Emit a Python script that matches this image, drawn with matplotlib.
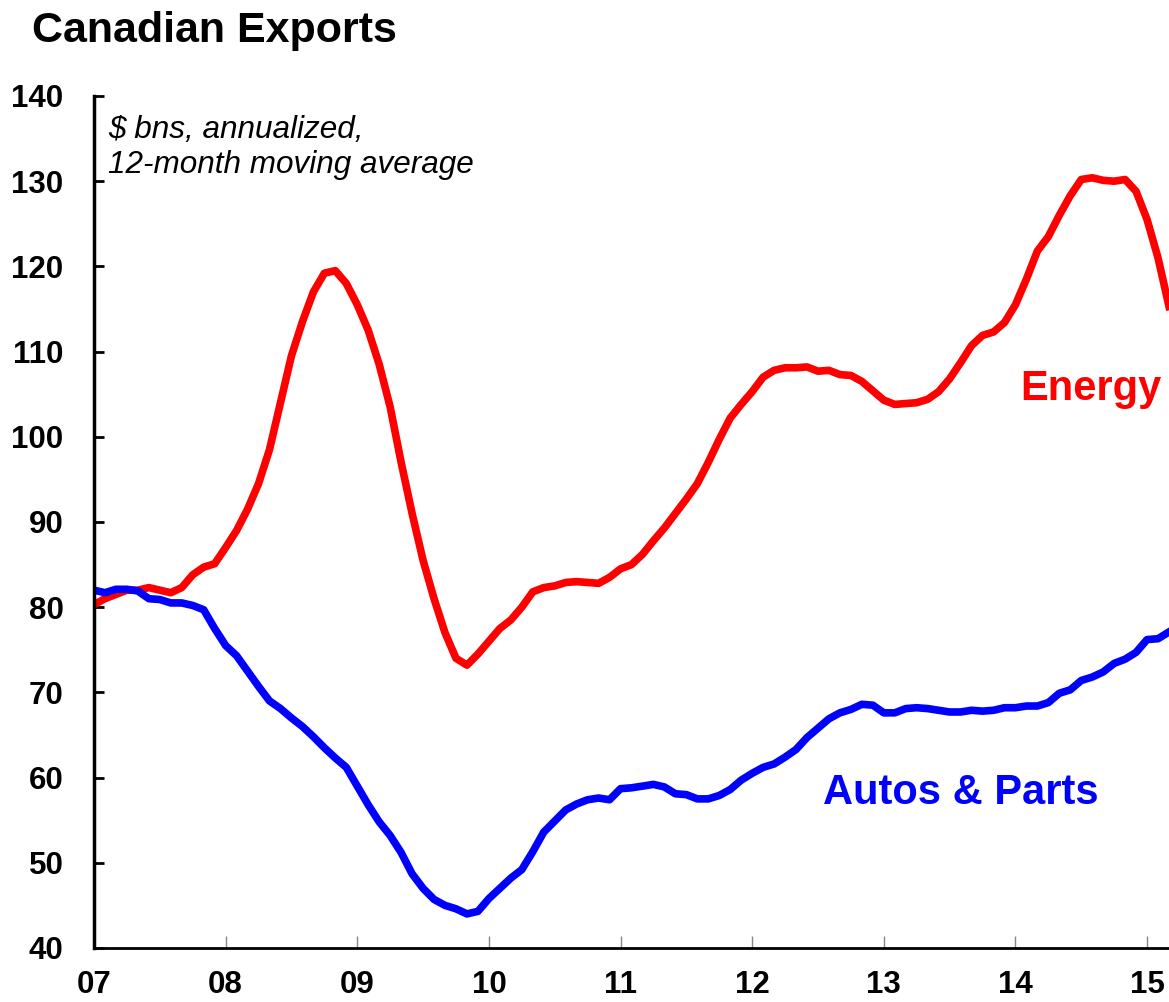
import numpy as np
import matplotlib.pyplot as plt

plt.rcParams['font.family'] = ['Liberation Sans', 'DejaVu Sans']

# monthly, Jan 2007 - Mar 2015
energy = [80.3, 81.0, 81.5, 82.0, 82.0, 82.3, 82.0, 81.7, 82.3, 83.8, 84.7, 85.1,
          87.0, 89.0, 91.5, 94.5, 98.5, 104.0, 109.5, 113.5, 117.0, 119.2, 119.5, 118.0,
          115.5, 112.5, 108.5, 103.5, 97.0, 91.0, 85.5, 81.0, 77.0, 74.0, 73.2, 74.5,
          76.0, 77.5, 78.5, 80.0, 81.8, 82.3, 82.5, 82.9, 83.0, 82.9, 82.8, 83.5,
          84.5, 85.0, 86.2, 87.8, 89.3, 91.0, 92.7, 94.5, 97.0, 99.7, 102.2, 103.8,
          105.3, 107.0, 107.8, 108.1, 108.1, 108.2, 107.7, 107.8, 107.3, 107.2, 106.5, 105.4,
          104.3, 103.8, 103.9, 104.0, 104.4, 105.3, 106.8, 108.7, 110.7, 111.9, 112.3, 113.4,
          115.5, 118.5, 121.8, 123.5, 126.0, 128.3, 130.2, 130.4, 130.1, 130.0, 130.2, 128.8,
          125.5, 121.0, 115.3]
autos = [82.0, 81.7, 82.1, 82.1, 81.9, 81.0, 80.9, 80.5, 80.5, 80.2, 79.7, 77.5,
         75.5, 74.3, 72.5, 70.7, 69.0, 68.1, 67.0, 66.0, 64.8, 63.5, 62.3, 61.2,
         59.0, 56.8, 54.8, 53.2, 51.2, 48.7, 47.0, 45.7, 45.0, 44.6, 44.0, 44.3,
         45.8, 47.0, 48.2, 49.2, 51.3, 53.6, 54.9, 56.2, 56.9, 57.4, 57.6, 57.4,
         58.7, 58.8, 59.0, 59.2, 58.9, 58.1, 58.0, 57.5, 57.5, 57.9, 58.6, 59.7,
         60.5, 61.2, 61.6, 62.4, 63.3, 64.7, 65.8, 66.9, 67.6, 68.0, 68.6, 68.5,
         67.6, 67.6, 68.1, 68.2, 68.1, 67.9, 67.7, 67.7, 67.9, 67.8, 67.9, 68.2,
         68.2, 68.4, 68.4, 68.8, 69.9, 70.3, 71.4, 71.8, 72.4, 73.4, 73.9, 74.7,
         76.2, 76.3, 77.1]
years = list(range(2007, 2016))
year_labels = ['07', '08', '09', '10', '11', '12', '13', '14', '15']
yticks = list(range(40, 141, 10))

t = 2007 + np.arange(len(energy)) / 12.0

fig = plt.figure(figsize=(11.69, 10.02), dpi=100)
ax = fig.add_axes([0.0804, 0.0539, 0.9196, 0.8503])

ax.plot(t, energy, color='#ff0000', lw=5.5, solid_joinstyle='round')
ax.plot(t, autos, color='#0000ff', lw=5.5, solid_joinstyle='round')

ax.set_xlim(2007, t[-1])
ax.set_ylim(40, 140)

for s in ['top', 'right']:
    ax.spines[s].set_visible(False)
ax.spines['left'].set_linewidth(2.5)
ax.spines['bottom'].set_linewidth(2)

ax.set_yticks(yticks)
ax.set_yticklabels([str(v) for v in yticks], fontsize=22.5, fontweight='bold')
ax.tick_params(axis='y', direction='in', length=7, width=2, color='black', pad=22)

ax.set_xticks(years)
ax.set_xticklabels(year_labels, fontsize=22.5, fontweight='bold')
ax.tick_params(axis='x', direction='in', length=9, width=1, color='#888888', pad=16)

ax.text(0.013, 0.978, '$ bns, annualized,\n12-month moving average',
        transform=ax.transAxes, ha='left', va='top', fontsize=22.7,
        style='italic', linespacing=1.25)

ax.text(2014.04, 105.6, 'Energy', color='#ff0000', fontsize=30,
        fontweight='bold', ha='left', va='center')
ax.text(2012.54, 58.2, 'Autos & Parts', color='#0000ff', fontsize=30,
        fontweight='bold', ha='left', va='center')

fig.text(0.027, 0.958, 'Canadian Exports', fontsize=31, fontweight='bold',
         ha='left', va='baseline')

fig.savefig('out.png', dpi=100)
